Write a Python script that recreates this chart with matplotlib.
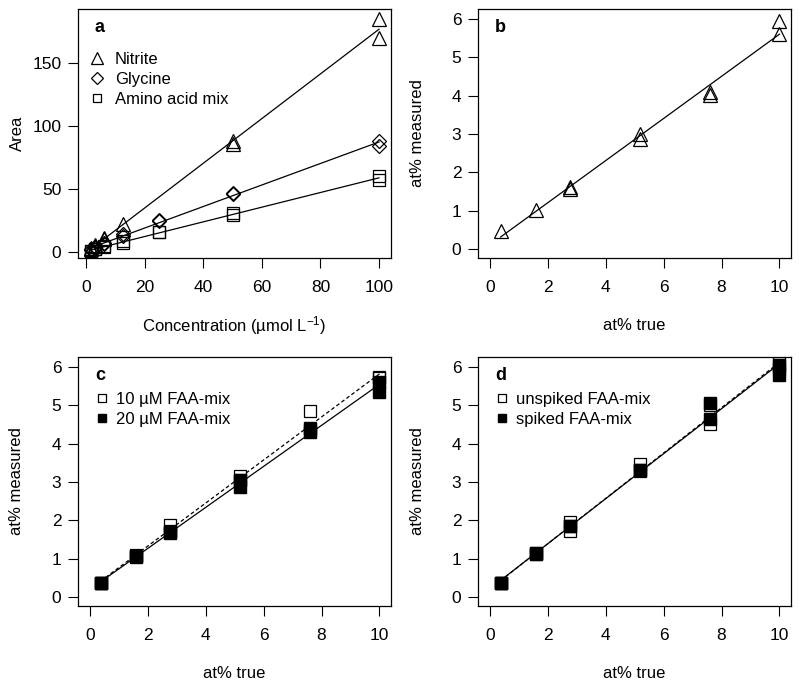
import numpy as np
import matplotlib
matplotlib.use("Agg")
import matplotlib.pyplot as plt

plt.rcParams['font.family'] = ['Liberation Sans', 'DejaVu Sans']
plt.rcParams['mathtext.fontset'] = 'custom'
plt.rcParams['mathtext.rm'] = 'Liberation Sans'
plt.rcParams['mathtext.it'] = 'Liberation Sans'

# panel a: calibration
conc = [1.5625, 1.5625, 3.125, 3.125, 6.25, 6.25, 12.5, 12.5, 25, 25, 50, 50, 100, 100]
nitrite_x = [1.5625, 1.5625, 3.125, 3.125, 6.25, 6.25, 12.5, 50, 50, 100, 100]
nitrite = [3.0, 2.5, 5.5, 5.0, 11.0, 10.0, 22.0, 88.0, 85.5, 185.0, 170.0]
glycine = [2.0, 1.5, 4.0, 3.5, 7.5, 6.5, 14.0, 12.5, 25.0, 24.5, 47.0, 46.0, 88.0, 84.0]
aa_mix = [1.0, 0.8, 2.0, 2.5, 4.5, 4.0, 9.0, 7.0, 16.0, 16.0, 31.0, 29.0, 60.0, 57.0]

# panel b: nitrite at%
true_b = [0.37, 1.58, 2.78, 2.78, 5.18, 5.18, 7.6, 7.6, 10, 10]
meas_b = [0.47, 1.02, 1.62, 1.58, 3.0, 2.87, 4.1, 4.03, 5.95, 5.62]

# panel c
true_cd = [0.37, 0.37, 1.58, 1.58, 2.78, 2.78, 5.18, 5.18, 7.6, 7.6, 10, 10]
faa10 = [0.38, 0.38, 1.1, 1.08, 1.87, 1.72, 3.15, 3.05, 4.85, 4.35, 5.75, 5.7]
faa20 = [0.37, 0.37, 1.05, 1.07, 1.68, 1.7, 3.05, 2.87, 4.4, 4.3, 5.62, 5.35]

# panel d
unspiked = [0.38, 0.38, 1.15, 1.12, 1.95, 1.72, 3.48, 3.3, 4.52, 5.0, 6.1, 5.95]
spiked = [0.37, 0.37, 1.13, 1.15, 1.85, 1.85, 3.32, 3.32, 5.05, 4.65, 6.05, 5.8]

fig = plt.figure(figsize=(8, 6.86), dpi=100)
W, H = 800, 686
FS = 12.5


def make_ax(x0, x1, y0, y1):
    return fig.add_axes([x0 / W, 1 - y1 / H, (x1 - x0) / W, (y1 - y0) / H])


def style(ax, xlab, ylab, letter):
    ax.tick_params(direction='out', length=7, width=0.8, labelsize=FS, pad=5)
    ax.tick_params(axis='x', pad=9)
    for s in ax.spines.values():
        s.set_linewidth(0.9)
    ax.set_xlabel(xlab, fontsize=12, va='center')
    ax.set_ylabel(ylab, fontsize=12, va='center')
    ax.xaxis.set_label_coords(0.5, -68 / 249)
    ax.yaxis.set_label_coords(-61 / 313, 0.5)
    ax.text(0.054, 0.924, letter, transform=ax.transAxes, fontsize=13,
            fontweight='bold', va='center')


def fit_line(ax, x, y, ls='-'):
    k, b = np.polyfit(x, y, 1)
    xs = np.array([min(x), max(x)])
    ax.plot(xs, k * xs + b, color='black', lw=0.9, ls=ls)


mk = dict(ls='none', color='black', mfc='none', mew=0.9)
leg = dict(loc='upper left', frameon=False, fontsize=12, handletextpad=0.3,
           borderaxespad=0, labelspacing=0.3, markerscale=0.8)

# a
ax = make_ax(78, 391, 9, 258)
fit_line(ax, nitrite_x, nitrite)
fit_line(ax, conc, glycine)
fit_line(ax, conc, aa_mix)
ax.plot(nitrite_x, nitrite, marker='^', ms=10, label='Nitrite', **mk)
ax.plot(conc, glycine, marker='D', ms=7.5, label='Glycine', **mk)
ax.plot(conc, aa_mix, marker='s', ms=8, label='Amino acid mix', **mk)
ax.set_xlim(-2.8, 104.1)
ax.set_ylim(-4.8, 192.9)
ax.set_xticks([0, 20, 40, 60, 80, 100])
ax.set_yticks([0, 50, 100, 150])
ax.legend(bbox_to_anchor=(0.0, 0.855), handlelength=1.5, **leg)
style(ax, 'Concentration (µmol L$^{-1}$)', 'Area', 'a')

# b
ax = make_ax(478, 791, 9, 258)
fit_line(ax, true_b, meas_b)
ax.plot(true_b, meas_b, marker='^', ms=10, **mk)
ax.set_xlim(-0.41, 10.4)
ax.set_ylim(-0.23, 6.26)
ax.set_xticks([0, 2, 4, 6, 8, 10])
ax.set_yticks([0, 1, 2, 3, 4, 5, 6])
style(ax, 'at% true', 'at% measured', 'b')

# c
ax = make_ax(78, 391, 357, 606)
fit_line(ax, true_cd, faa10, ls=(0, (3, 2)))
fit_line(ax, true_cd, faa20)
ax.plot(true_cd, faa10, marker='s', ms=8, label='10 µM FAA-mix', **mk)
ax.plot(true_cd, faa20, marker='s', ms=8, ls='none', color='black', label='20 µM FAA-mix')
ax.set_xlim(-0.41, 10.4)
ax.set_ylim(-0.23, 6.26)
ax.set_xticks([0, 2, 4, 6, 8, 10])
ax.set_yticks([0, 1, 2, 3, 4, 5, 6])
ax.legend(bbox_to_anchor=(0.03, 0.885), handlelength=1.0, **leg)
style(ax, 'at% true', 'at% measured', 'c')

# d
ax = make_ax(478, 791, 357, 606)
fit_line(ax, true_cd, unspiked, ls=(0, (3, 2)))
fit_line(ax, true_cd, spiked)
ax.plot(true_cd, unspiked, marker='s', ms=8, label='unspiked FAA-mix', **mk)
ax.plot(true_cd, spiked, marker='s', ms=8, ls='none', color='black', label='spiked FAA-mix')
ax.set_xlim(-0.41, 10.4)
ax.set_ylim(-0.23, 6.26)
ax.set_xticks([0, 2, 4, 6, 8, 10])
ax.set_yticks([0, 1, 2, 3, 4, 5, 6])
ax.legend(bbox_to_anchor=(0.03, 0.885), handlelength=1.0, **leg)
style(ax, 'at% true', 'at% measured', 'd')

fig.savefig('out.png', dpi=100)
